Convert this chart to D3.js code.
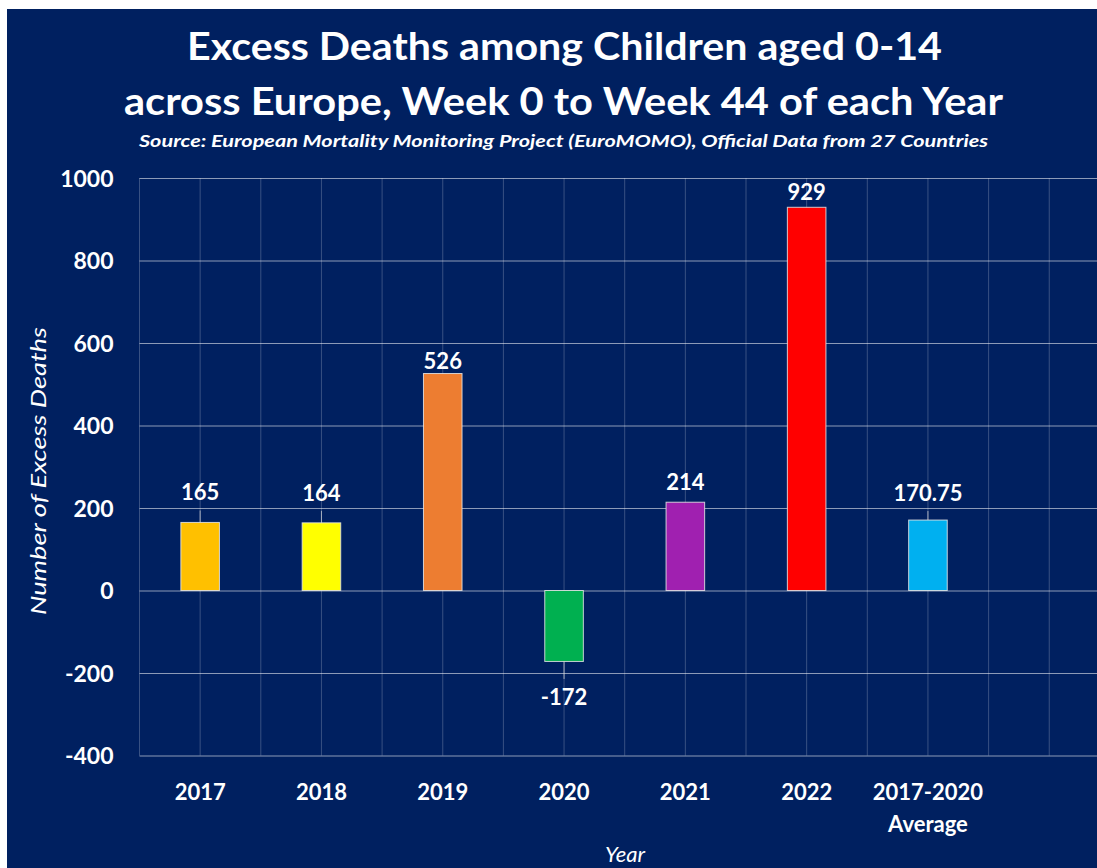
<!DOCTYPE html>
<html>
<head>
<meta charset="utf-8">
<script src="https://cdn.jsdelivr.net/npm/d3@7"></script>
<style>
  html, body { margin: 0; padding: 0; background: #ffffff; }
  svg { display: block; }
  text { font-family: Lato, "Open Sans", sans-serif; fill: #ffffff; }
</style>
</head>
<body>
<svg id="chart" width="1097" height="868"></svg>
<script>
// ---------- data ----------
const categories = ["2017", "2018", "2019", "2020", "2021", "2022", "2017-2020|Average"];
const values = [165, 164, 526, -172, 214, 929, 170.75];
const valueLabels = ["165", "164", "526", "-172", "214", "929", "170.75"];
const barColors = ["#FFC000", "#FFFF00", "#ED7D31", "#00B050", "#A020B0", "#FF0000", "#00B0F0"];
const emptySlots = ["_e1", "_e2"];              // unused category slots at the right
const yTicks = [-400, -200, 0, 200, 400, 600, 800, 1000];
const titleLines = ["Excess Deaths among Children aged 0-14", "across Europe, Week 0 to Week 44 of each Year"];
const subtitle = "Source: European Mortality Monitoring Project (EuroMOMO), Official Data from 27 Countries";
const yAxisTitle = "Number of Excess Deaths";
const xAxisTitle = "Year";

// ---------- layout ----------
const labelOffsets = [-30, -30, -12, 35.5, -20.5, -15, -27]; // label centre offset from bar end (px)
const W = 1097, H = 868;
const plot = { left: 139.5, top: 178, bottom: 755.5, band: 121.3 };

const svg = d3.select("#chart");

// background
svg.append("rect").attr("x", 7).attr("y", 9).attr("width", W - 7).attr("height", H - 9)
  .attr("fill", "#002060");

// scales
const domain = categories.concat(emptySlots);
const x = d3.scaleBand().domain(domain)
  .range([plot.left, plot.left + plot.band * domain.length]).paddingInner(0).paddingOuter(0);
const y = d3.scaleLinear().domain([-400, 1000]).range([plot.bottom, plot.top]);
const bw = x.bandwidth();
const barW = bw * 0.318;

// vertical gridlines (band edges and centres)
const vLines = [];
domain.forEach(c => { vLines.push(x(c)); vLines.push(x(c) + bw / 2); });
vLines.push(x(domain[domain.length - 1]) + bw);
svg.append("g").selectAll("line").data(vLines).join("line")
  .attr("x1", d => d).attr("x2", d => d)
  .attr("y1", y(1000)).attr("y2", y(-400))
  .attr("stroke", "rgba(255,255,255,0.22)").attr("stroke-width", 1);

// y axis with horizontal gridlines
const yAxis = d3.axisLeft(y).tickValues(yTicks).tickFormat(d => String(d))
  .tickSizeInner(-(W - plot.left)).tickSizeOuter(0).tickPadding(26);
const gy = svg.append("g").attr("transform", `translate(${plot.left},0)`).call(yAxis);
gy.select(".domain").remove();
gy.selectAll(".tick line").attr("stroke", "rgba(255,255,255,0.55)").attr("stroke-width", 1.2);
gy.selectAll(".tick text").attr("fill", "#fff").attr("font-family", "Lato, 'Open Sans', sans-serif")
  .attr("font-size", 23).attr("font-weight", "bold").attr("dy", "0.36em");

// bars
const data = categories.map((c, i) => ({ c, v: values[i], label: valueLabels[i], color: barColors[i], off: labelOffsets[i] }));
svg.append("g").selectAll("rect").data(data).join("rect")
  .attr("x", d => x(d.c) + bw / 2 - barW / 2)
  .attr("y", d => y(Math.max(0, d.v)))
  .attr("width", barW)
  .attr("height", d => Math.abs(y(d.v) - y(0)))
  .attr("fill", d => d.color)
  .attr("stroke", "rgba(230,230,230,0.85)").attr("stroke-width", 1);

// leader lines
svg.append("g").selectAll("line").data(data.filter(d => Math.abs(d.off) > 25)).join("line")
  .attr("x1", d => x(d.c) + bw / 2).attr("x2", d => x(d.c) + bw / 2)
  .attr("y1", d => y(d.v))
  .attr("y2", d => y(d.v) + d.off + (d.off < 0 ? 18 : -18))
  .attr("stroke", "rgba(220,220,220,0.7)").attr("stroke-width", 1);

// value labels
svg.append("g").selectAll("text").data(data).join("text")
  .attr("x", d => x(d.c) + bw / 2)
  .attr("y", d => y(d.v) + d.off)
  .attr("dy", "0.36em")
  .attr("text-anchor", "middle")
  .attr("font-size", 22).attr("font-weight", "bold")
  .text(d => d.label);

// x axis labels
const xAxis = d3.axisBottom(x).tickValues(categories).tickSize(0).tickPadding(0);
const gx = svg.append("g").attr("transform", `translate(0,${plot.bottom})`).call(xAxis);
gx.select(".domain").remove();
gx.selectAll(".tick text").each(function (d) {
  const t = d3.select(this);
  t.text(null).attr("y", 0).attr("dy", null)
    .attr("fill", "#fff").attr("font-family", "Lato, 'Open Sans', sans-serif")
    .attr("font-size", 22).attr("font-weight", "bold");
  d.split("|").forEach((line, i) => {
    t.append("tspan").attr("x", 0).attr("y", 44.5 + i * 32).text(line);
  });
});

// titles
svg.append("text").attr("x", 564.5).attr("y", 60).attr("text-anchor", "middle")
  .attr("font-size", 38).attr("font-weight", "bold")
  .attr("textLength", 755).attr("lengthAdjust", "spacingAndGlyphs").text(titleLines[0]);
svg.append("text").attr("x", 563.5).attr("y", 115).attr("text-anchor", "middle")
  .attr("font-size", 38).attr("font-weight", "bold")
  .attr("textLength", 879).attr("lengthAdjust", "spacingAndGlyphs").text(titleLines[1]);
svg.append("text").attr("x", 563.5).attr("y", 147).attr("text-anchor", "middle")
  .attr("font-size", 17).attr("font-weight", "bold").attr("font-style", "italic")
  .attr("textLength", 849).attr("lengthAdjust", "spacingAndGlyphs").text(subtitle);

// axis titles
svg.append("text").attr("transform", "translate(46,471) rotate(-90)").attr("text-anchor", "middle")
  .attr("font-size", 22).attr("font-style", "italic")
  .attr("textLength", 288).attr("lengthAdjust", "spacingAndGlyphs").text(yAxisTitle);
svg.append("text").attr("x", 625).attr("y", 862).attr("text-anchor", "middle")
  .attr("font-size", 22).attr("font-style", "italic").text(xAxisTitle);
</script>
</body>
</html>
